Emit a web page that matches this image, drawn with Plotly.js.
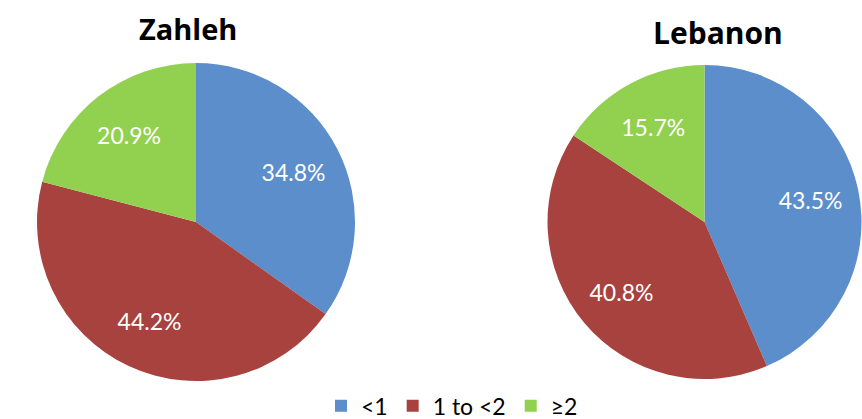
<!DOCTYPE html>
<html>
<head>
<meta charset="utf-8">
<script src="https://cdn.plot.ly/plotly-3.0.1.min.js"></script>
<style>html,body{margin:0;padding:0;background:#fff}#chart{width:862px;height:419px}</style>
</head>
<body>
<div id="chart"></div>
<script>
const categories = ["<1", "1 to <2", "\u22652"];
const zahlehValues = [34.8, 44.2, 20.9];
const lebanonValues = [43.5, 40.8, 15.7];
const chartTitles = ["Zahleh", "Lebanon"];
const colors = ["#5B8ECB", "#A8423F", "#92D050"];

const W = 862, H = 419;
function dom(cx, cy, r) {
  return { x: [(cx - r) / W, (cx + r) / W], y: [(H - cy - r) / H, (H - cy + r) / H] };
}
const labelFont = { family: "Lato, 'Open Sans', sans-serif", size: 23, color: "#ffffff" };
function pieFill(values, d, name) {
  return {
    type: "pie", name: name, labels: categories, values: values,
    sort: false, direction: "clockwise", rotation: 0, domain: d,
    marker: { colors: colors, line: { width: 0 } },
    textinfo: "none", hoverinfo: "label+percent", showlegend: true
  };
}
function pieText(values, d, name) {
  return {
    type: "pie", name: name, labels: categories, values: values,
    sort: false, direction: "clockwise", rotation: 0, domain: d, hole: 0.38,
    marker: { colors: ["rgba(0,0,0,0)", "rgba(0,0,0,0)", "rgba(0,0,0,0)"], line: { width: 0 } },
    textinfo: "text",
    text: values.map(v => v.toFixed(1) + "%"),
    textposition: "inside",
    insidetextorientation: "horizontal",
    insidetextfont: labelFont,
    hoverinfo: "skip", showlegend: false
  };
}
const dZ = dom(196, 222, 159), dL = dom(704.5, 222, 157);
const data = [
  pieFill(zahlehValues, dZ, chartTitles[0]),
  pieFill(lebanonValues, dL, chartTitles[1]),
  pieText(zahlehValues, dZ, chartTitles[0]),
  pieText(lebanonValues, dL, chartTitles[1])
];
const titleFont = { family: "'Open Sans', sans-serif", size: 29, color: "#000000", weight: 700 };
const titleFont2 = Object.assign({}, titleFont, { size: 30 });
const layout = {
  width: W, height: H,
  margin: { l: 0, r: 0, t: 0, b: 0, autoexpand: false },
  paper_bgcolor: "#ffffff",
  showlegend: true,
  legend: {
    orientation: "h", x: 452 / W, xanchor: "center", y: -0.02, yanchor: "bottom",
    font: { family: "Lato, 'Open Sans', sans-serif", size: 23, color: "#000" },
    itemwidth: 30, traceorder: "normal", bgcolor: "rgba(0,0,0,0)"
  },
  annotations: [
    { text: "<b>" + chartTitles[0] + "</b>", x: 188 / W, y: (H - 29) / H, xref: "paper", yref: "paper", showarrow: false, font: titleFont, xanchor: "center", yanchor: "middle" },
    { text: "<b>" + chartTitles[1] + "</b>", x: 718 / W, y: (H - 32) / H, xref: "paper", yref: "paper", showarrow: false, font: titleFont2, xanchor: "center", yanchor: "middle" }
  ]
};
Plotly.newPlot("chart", data, layout, { displayModeBar: false, staticPlot: true });
</script>
</body>
</html>
